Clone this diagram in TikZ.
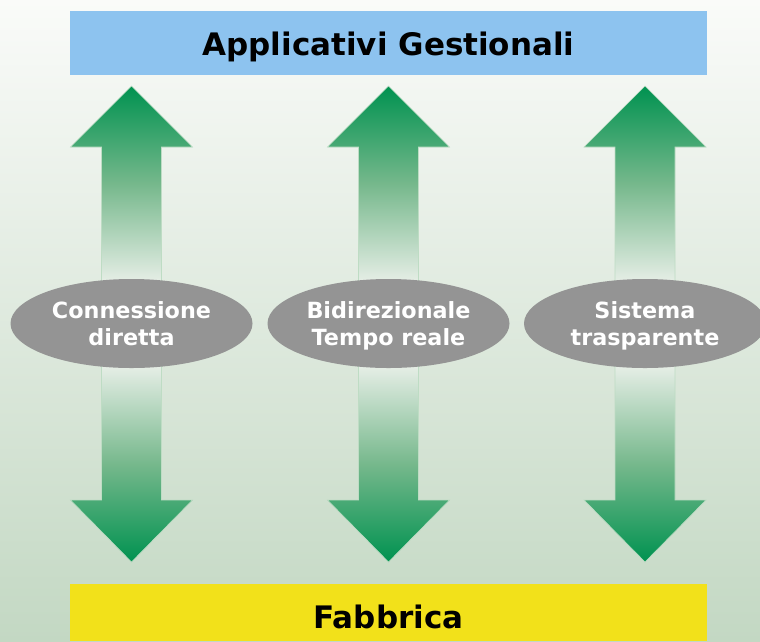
\documentclass[tikz,border=0pt]{standalone}
\usepackage{fontspec}
\setmainfont{DejaVu Sans}
\usetikzlibrary{shapes.geometric}
\definecolor{bgtop}{RGB}{250,251,249}
\definecolor{bgbot}{RGB}{195,216,195}
\definecolor{barblue}{RGB}{141,195,239}
\definecolor{baryellow}{RGB}{242,225,26}
\definecolor{arrgreen}{RGB}{0,146,80}
\definecolor{arrmid}{RGB}{118,184,140}
\definecolor{arrpale}{RGB}{230,238,230}
\definecolor{arredge}{RGB}{190,220,196}
\definecolor{ellgray}{RGB}{148,148,148}
\pgfdeclareverticalshading{upfade}{100bp}{color(0bp)=(arrpale); color(25bp)=(arrpale); color(50bp)=(arrmid); color(75bp)=(arrgreen); color(100bp)=(arrgreen)}
\pgfdeclareverticalshading{downfade}{100bp}{color(0bp)=(arrgreen); color(25bp)=(arrgreen); color(50bp)=(arrmid); color(75bp)=(arrpale); color(100bp)=(arrpale)}
\tikzset{
  bar/.style={draw=none, inner sep=0pt},
  bartext/.style={anchor=base, font=\fontsize{31}{36}\selectfont\bfseries, text=black},
  ell/.style={ellipse, fill=ellgray, draw=none, minimum width=242pt, minimum height=89pt, inner sep=0pt},
  elltext/.style={align=center, text=white, font=\fontsize{22.3}{27}\selectfont\bfseries, inner sep=0pt},
  uparrow/.style={shading=upfade, draw=arredge, line width=0.6pt},
  downarrow/.style={shading=downfade, draw=arredge, line width=0.6pt},
}
\begin{document}
\begin{tikzpicture}[x=1pt,y=-1pt]
\useasboundingbox (0,0) rectangle (760,641);
\shade[top color=bgtop, bottom color=bgbot] (0,0) rectangle (760,641);
% bars
\fill[barblue] (70,11) rectangle (707,75);
\node[bar] (topbar) at (388.5,43) {};
\node[bartext] (app) at (388.5,55) {Applicativi Gestionali};
\fill[baryellow] (70,584) rectangle (707,641);
\node[bar] (botbar) at (388.5,612) {};
\node[bartext] (fab) at (388.5,628) {Fabbrica};
% arrows
\foreach \cx/\n in {131.5/1, 388.5/2, 645/3}{
  \shade[uparrow] (\cx,86) -- (\cx+61,147) -- (\cx+30,147) -- (\cx+30,282)
     -- (\cx-30,282) -- (\cx-30,147) -- (\cx-61,147) -- cycle;
  \shade[downarrow] (\cx-30,366) -- (\cx+30,366) -- (\cx+30,500) -- (\cx+61,500)
     -- (\cx,562) -- (\cx-61,500) -- (\cx-30,500) -- cycle;
}
% ellipses
\node[ell] (e1) at (131.5,323.5) {};
\node[ell] (e2) at (388.5,323.5) {};
\node[ell] (e3) at (645,323.5) {};
\node[elltext] (t1) at ([yshift=-2.6pt]e1.center) {\strut Connessione\\\strut diretta};
\node[elltext] (t2) at ([yshift=-2.6pt]e2.center) {\strut Bidirezionale\\\strut Tempo reale};
\node[elltext] (t3) at ([yshift=-2.6pt]e3.center) {\strut Sistema\\\strut trasparente};
\end{tikzpicture}
\end{document}
